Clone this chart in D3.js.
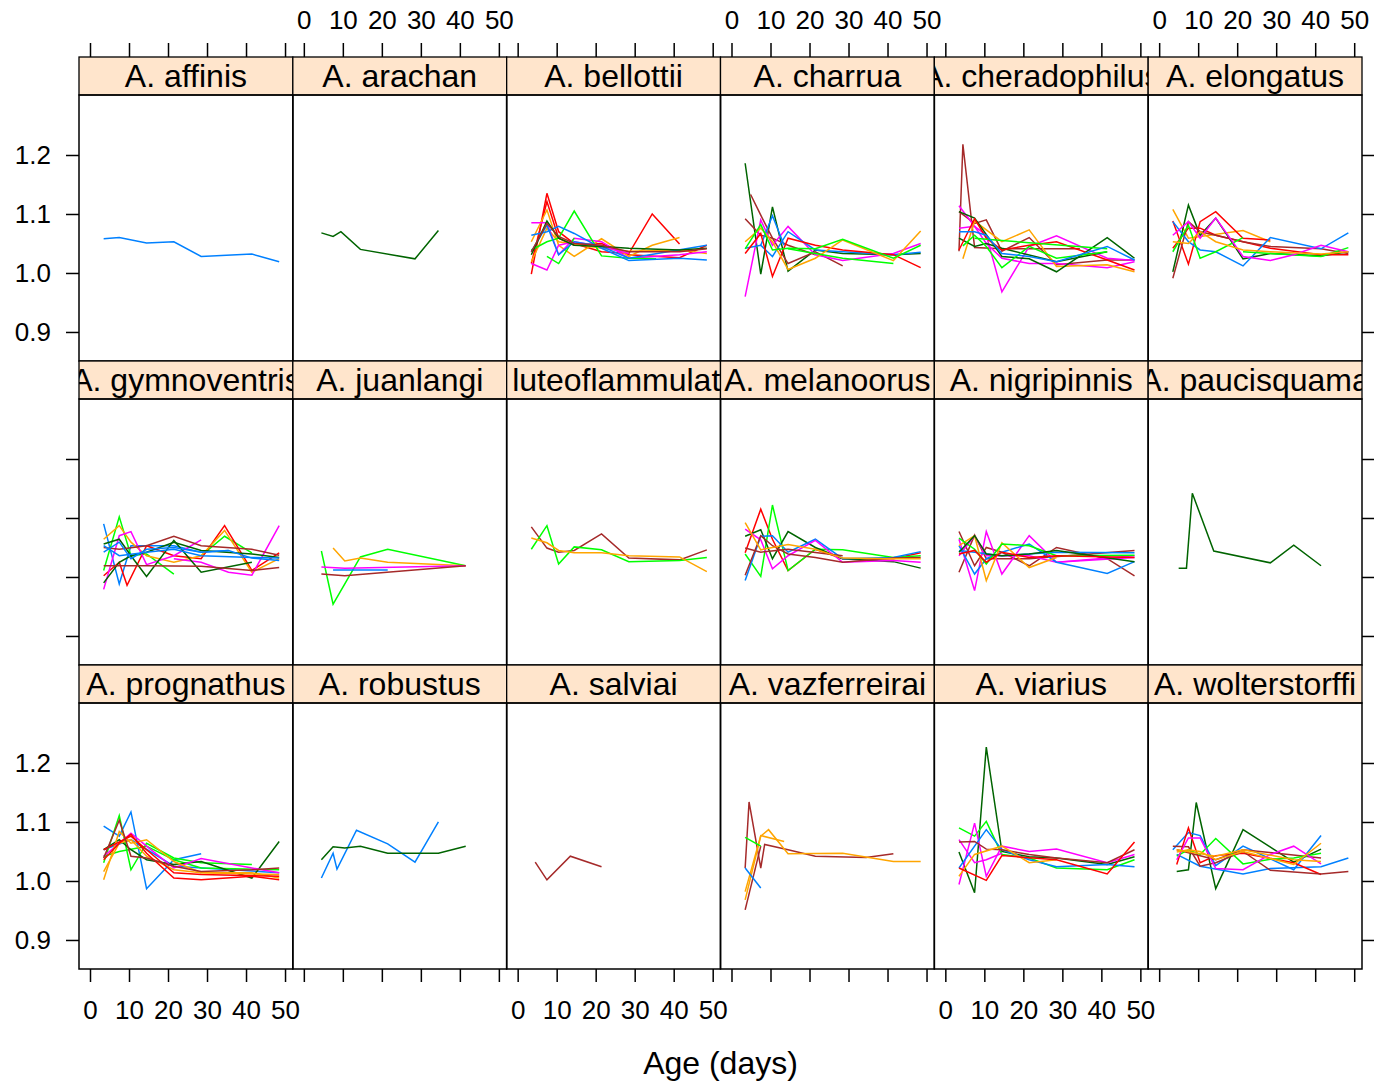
<!DOCTYPE html>
<html>
<head>
<meta charset="utf-8">
<script src="https://cdn.jsdelivr.net/npm/d3@7/dist/d3.min.js"></script>
<style>
body { margin: 0; background: #fff; }
text { font-family: "Liberation Sans", Arial, sans-serif; }
</style>
</head>
<body>
<div id="graph"></div>
<script>
// lattice default superpose colours
const palette = { B: "#0080ff", M: "#ff00ff", D: "#006400", R: "#ff0000", O: "#ffa500", G: "#00ff00", N: "#a52a2a" };

const species = ["A. affinis", "A. arachan", "A. bellottii", "A. charrua", "A. cheradophilus", "A. elongatus",
  "A. gymnoventris", "A. juanlangi", "A. luteoflammulatus", "A. melanoorus", "A. nigripinnis", "A. paucisquama",
  "A. prognathus", "A. robustus", "A. salviai", "A. vazferreirai", "A. viarius", "A. wolterstorffi"];

const xTicks = [0, 10, 20, 30, 40, 50];
const yTicks = [0.9, 1.0, 1.1, 1.2];

// each line: [colour key, [[age, value], ...]]
const affinis = [
  ["B", [[3.5,1.058],[7.5,1.060],[14.5,1.051],[21.5,1.053],[28.5,1.028],[41.5,1.032],[48.5,1.019]]]
];
const arachan = [
  ["D", [[4.5,1.068],[7.5,1.062],[9.5,1.070],[14.5,1.040],[28.5,1.024],[34.5,1.072]]]
];
const bellottii = [
  ["R", [[3.5,0.998],[7.5,1.135],[10.5,1.070],[14.5,1.050],[21.5,1.036],[28.5,1.033],[34.5,1.100],[41.5,1.049]]],
  ["R", [[3.5,1.016],[7.5,1.121],[10.5,1.059],[14.5,1.047],[21.5,1.050],[28.5,1.031],[41.5,1.026],[48.5,1.047]]],
  ["O", [[3.5,1.053],[7.5,1.107],[10.5,1.047],[14.5,1.028],[21.5,1.058],[28.5,1.028],[34.5,1.047],[41.5,1.060]]],
  ["O", [[3.5,1.019],[7.5,1.076],[10.5,1.053],[21.5,1.042],[28.5,1.037],[41.5,1.039],[48.5,1.033]]],
  ["M", [[3.5,1.085],[7.5,1.085],[10.5,1.031],[14.5,1.059],[21.5,1.053],[28.5,1.025],[41.5,1.031],[48.5,1.036]]],
  ["M", [[3.5,1.016],[7.5,1.005],[10.5,1.047],[14.5,1.053],[21.5,1.045],[28.5,1.033]]],
  ["G", [[3.5,1.039],[7.5,1.053],[10.5,1.059],[14.5,1.105],[21.5,1.029],[28.5,1.025],[35.5,1.024]]],
  ["G", [[7.5,1.028],[10.5,1.016],[14.5,1.059]]],
  ["B", [[3.5,1.064],[7.5,1.070],[10.5,1.079],[14.5,1.067],[21.5,1.042],[28.5,1.021],[41.5,1.025],[48.5,1.022]]],
  ["B", [[3.5,1.036],[7.5,1.081],[10.5,1.031],[14.5,1.053],[21.5,1.045],[28.5,1.025],[48.5,1.047]]],
  ["D", [[3.5,1.031],[7.5,1.088],[10.5,1.059],[14.5,1.047],[21.5,1.045],[28.5,1.042],[41.5,1.039],[48.5,1.042]]],
  ["N", [[3.5,1.036],[7.5,1.084],[10.5,1.062],[14.5,1.050],[21.5,1.047],[28.5,1.036],[41.5,1.036],[48.5,1.041]]]
];
const charrua = [
  ["D", [[3.5,1.186],[7.5,0.998],[10.5,1.112],[14.5,1.003],[21.5,1.039],[28.5,1.033],[41.5,1.031],[48.5,1.033]]],
  ["N", [[4.9,1.133],[7.5,1.098],[10.5,1.059],[14.5,1.016],[21.5,1.036],[28.5,1.012]]],
  ["N", [[3.5,1.092],[7.5,1.064],[10.5,1.059],[14.5,1.047],[21.5,1.031]]],
  ["M", [[3.5,0.960],[7.5,1.090],[10.5,1.047],[14.5,1.079],[21.5,1.031],[28.5,1.021],[41.5,1.033],[48.5,1.050]]],
  ["B", [[3.5,1.042],[7.5,1.047],[10.5,1.028],[14.5,1.070],[21.5,1.039],[28.5,1.036],[41.5,1.031],[48.5,1.035]]],
  ["B", [[7.5,1.047],[10.5,1.097],[13.5,1.047]]],
  ["R", [[3.5,1.033],[7.5,1.067],[10.5,0.994],[14.5,1.059],[21.5,1.047],[28.5,1.039],[41.5,1.031],[48.5,1.009]]],
  ["O", [[3.5,1.053],[7.5,1.076],[10.5,1.053],[14.5,1.006],[21.5,1.025],[28.5,1.056],[41.5,1.021],[48.5,1.071]]],
  ["G", [[3.5,1.041],[7.5,1.082],[10.5,1.039],[14.5,1.042],[21.5,1.041],[28.5,1.057],[41.5,1.025],[48.5,1.047]]],
  ["G", [[14.5,1.041],[28.5,1.025],[41.5,1.016]]]
];
const cheradophilus = [
  ["N", [[3.5,1.037],[4.5,1.218],[7.5,1.043],[14.5,1.041],[21.5,1.041],[28.5,1.041],[34.5,1.041]]],
  ["N", [[3.5,1.104],[7.5,1.084],[10.5,1.090],[14.5,1.037],[21.5,1.060],[28.5,1.014],[41.5,1.022],[48.5,1.022]]],
  ["M", [[3.5,1.114],[7.5,1.079],[10.5,1.064],[14.5,0.968],[21.5,1.045],[28.5,1.063],[41.5,1.025],[48.5,1.021]]],
  ["M", [[3.5,1.076],[7.5,1.079],[10.5,1.050],[14.5,1.025],[21.5,1.016],[28.5,1.016],[41.5,1.009],[48.5,1.019]]],
  ["O", [[4.5,1.024],[7.5,1.088],[14.5,1.053],[21.5,1.073],[28.5,1.011],[41.5,1.014],[48.5,1.002]]],
  ["D", [[3.5,1.104],[7.5,1.093],[14.5,1.028],[21.5,1.024],[28.5,1.002],[41.5,1.060],[48.5,1.025]]],
  ["D", [[3.5,1.059],[7.5,1.045],[10.5,1.050],[14.5,1.042],[28.5,1.019],[41.5,1.036]]],
  ["R", [[3.5,1.039],[7.5,1.092],[10.5,1.059],[14.5,1.039],[21.5,1.047],[28.5,1.053],[41.5,1.022],[48.5,1.005]]],
  ["G", [[4.5,1.046],[7.5,1.064],[10.5,1.045],[14.5,1.009],[21.5,1.045],[28.5,1.025],[41.5,1.036]]],
  ["G", [[7.5,1.059],[14.5,1.055],[41.5,1.041]]],
  ["B", [[3.5,1.070],[7.5,1.070],[10.5,1.064],[14.5,1.033],[21.5,1.028],[28.5,1.019],[41.5,1.045],[48.5,1.022]]]
];
const elongatus = [
  ["O", [[3.5,1.108],[7.5,1.059],[21.5,1.072],[28.5,1.053]]],
  ["D", [[3.5,1.002],[7.5,1.115],[10.5,1.064],[14.5,1.093],[21.5,1.024],[28.5,1.033],[41.5,1.029],[48.5,1.036]]],
  ["R", [[3.5,1.088],[7.5,1.015],[10.5,1.087],[14.5,1.104],[21.5,1.059],[28.5,1.056]]],
  ["R", [[3.5,1.042],[7.5,1.076],[10.5,1.076],[14.5,1.064],[21.5,1.053],[28.5,1.042],[41.5,1.031],[48.5,1.031]]],
  ["N", [[3.5,0.991],[7.5,1.087],[10.5,1.070],[14.5,1.064],[21.5,1.053],[28.5,1.045],[41.5,1.041],[48.5,1.033]]],
  ["B", [[3.5,1.087],[7.5,1.053],[10.5,1.039],[14.5,1.036],[21.5,1.012],[28.5,1.060],[41.5,1.041],[48.5,1.068]]],
  ["G", [[3.5,1.036],[7.5,1.081],[10.5,1.025],[14.5,1.036],[21.5,1.060]]],
  ["G", [[21.5,1.036],[28.5,1.033],[41.5,1.028],[48.5,1.043]]],
  ["M", [[3.5,1.064],[7.5,1.087],[10.5,1.059],[14.5,1.093],[21.5,1.028],[28.5,1.021],[34.5,1.031],[41.5,1.047],[48.5,1.036]]],
  ["O", [[3.5,1.053],[7.5,1.050],[10.5,1.070],[14.5,1.053],[21.5,1.039],[28.5,1.036],[41.5,1.032],[48.5,1.036]]]
];
const gymnoventris = [
  ["B", [[3.5,1.090],[7.5,0.988],[10.5,1.053],[14.5,1.053],[21.5,1.053],[28.5,1.042],[35.5,1.045]]],
  ["G", [[3.5,1.011],[7.5,1.102],[10.5,1.036],[14.5,1.039],[21.5,1.005]]],
  ["G", [[28.5,1.036],[34.5,1.069],[41.5,1.041]]],
  ["R", [[3.5,1.002],[7.5,1.025],[9.5,0.986],[14.5,1.053],[21.5,1.036],[28.5,1.031],[34.5,1.087],[41.5,1.011],[48.5,1.041]]],
  ["O", [[3.5,1.064],[7.5,1.087],[10.5,1.059],[14.5,1.036],[21.5,1.025],[28.5,1.036],[34.5,1.079],[41.5,1.008],[48.5,1.031]]],
  ["M", [[3.5,0.979],[7.5,1.070],[10.5,1.077],[14.5,1.021],[21.5,1.036],[28.5,1.063]]],
  ["M", [[21.5,1.031],[28.5,1.025],[35.5,1.008],[41.5,1.003],[48.5,1.087]]],
  ["D", [[3.5,0.990],[7.5,1.025],[10.5,1.036],[14.5,1.001],[21.5,1.062],[28.5,1.008],[41.5,1.025]]],
  ["D", [[3.5,1.056],[7.5,1.064],[10.5,1.036],[14.5,1.042],[21.5,1.059],[28.5,1.045],[41.5,1.039],[48.5,1.033]]],
  ["N", [[3.5,1.050],[7.5,1.047],[14.5,1.053],[21.5,1.069],[28.5,1.053],[41.5,1.047],[48.5,1.037]]],
  ["N", [[3.5,1.019],[14.5,1.019],[28.5,1.018],[41.5,1.011],[48.5,1.016]]],
  ["B", [[3.5,1.042],[7.5,1.059],[10.5,1.031],[14.5,1.047],[21.5,1.050],[28.5,1.042],[35.5,1.045],[41.5,1.032],[48.5,1.028]]],
  ["B", [[3.5,1.053],[7.5,1.036],[14.5,1.042],[21.5,1.047],[28.5,1.036],[41.5,1.033],[48.5,1.032]]]
];
const juanlangi = [
  ["G", [[4.5,1.044],[7.5,0.954],[14.5,1.034],[21.5,1.047],[41.5,1.019]]],
  ["O", [[7.5,1.049],[10.5,1.027],[14.5,1.032],[21.5,1.025],[41.5,1.019]]],
  ["M", [[4.5,1.017],[10.5,1.015],[41.5,1.019]]],
  ["N", [[4.5,1.005],[10.5,1.002],[41.5,1.019]]],
  ["B", [[7.5,1.012],[21.5,1.012]]]
];
const luteoflammulatus = [
  ["N", [[3.5,1.085],[7.5,1.049],[10.5,1.042],[14.5,1.045],[21.5,1.073],[28.5,1.032],[41.5,1.029],[48.5,1.046]]],
  ["G", [[3.5,1.047],[7.5,1.087],[10.5,1.022],[14.5,1.051],[21.5,1.046],[28.5,1.026],[41.5,1.028],[48.5,1.033]]],
  ["O", [[3.5,1.066],[7.5,1.058],[10.5,1.045],[14.5,1.041],[21.5,1.041],[28.5,1.036],[41.5,1.034],[48.5,1.009]]]
];
const melanoorus = [
  ["R", [[3.5,1.041],[7.5,1.115],[10.5,1.064],[14.5,1.011],[21.5,1.047],[28.5,1.031],[41.5,1.031],[48.5,1.041]]],
  ["G", [[3.5,1.039],[7.5,1.001],[10.5,1.122],[14.5,1.011],[21.5,1.047],[28.5,1.046],[41.5,1.033],[48.5,1.036]]],
  ["D", [[3.5,1.069],[7.5,1.080],[10.5,1.031],[14.5,1.077],[21.5,1.050],[28.5,1.031],[41.5,1.026],[48.5,1.015]]],
  ["B", [[3.5,0.994],[7.5,1.069],[10.5,1.070],[14.5,1.042],[21.5,1.064],[28.5,1.031],[41.5,1.033],[48.5,1.043]]],
  ["M", [[3.5,1.081],[7.5,1.063],[10.5,1.014],[14.5,1.036],[21.5,1.062],[28.5,1.025],[41.5,1.028],[48.5,1.025]]],
  ["N", [[3.5,1.003],[7.5,1.070],[10.5,1.053],[14.5,1.039],[21.5,1.033],[28.5,1.025],[41.5,1.032],[48.5,1.033]]],
  ["N", [[3.5,1.049],[7.5,1.042],[14.5,1.047],[28.5,1.036]]],
  ["O", [[3.5,1.092],[7.5,1.046],[14.5,1.055],[21.5,1.047],[28.5,1.032],[41.5,1.031],[48.5,1.031]]]
];
const nigripinnis = [
  ["N", [[3.5,1.077],[7.5,1.019],[10.5,1.050],[14.5,1.042],[21.5,1.019],[28.5,1.050],[41.5,1.031],[48.5,1.002]]],
  ["N", [[3.5,1.008],[7.5,1.071],[10.5,1.031],[21.5,1.031],[48.5,1.045]]],
  ["M", [[3.5,1.064],[7.5,0.977],[10.5,1.077],[14.5,1.005],[21.5,1.070],[28.5,1.025],[48.5,1.033]]],
  ["M", [[3.5,1.036],[7.5,1.070],[10.5,1.036],[21.5,1.036],[28.5,1.025],[48.5,1.036]]],
  ["B", [[3.5,1.053],[7.5,1.005],[10.5,1.031],[14.5,1.042],[21.5,1.056],[28.5,1.025],[41.5,1.006],[48.5,1.026]]],
  ["B", [[3.5,1.045],[7.5,1.042],[14.5,1.036],[28.5,1.042],[48.5,1.041]]],
  ["O", [[3.5,1.053],[7.5,1.070],[10.5,0.994],[14.5,1.058],[21.5,1.016],[28.5,1.033]]],
  ["G", [[3.5,1.066],[7.5,1.047],[10.5,1.022],[14.5,1.056],[21.5,1.053],[28.5,1.036],[48.5,1.037]]],
  ["D", [[3.5,1.042],[7.5,1.070],[10.5,1.039],[14.5,1.036],[21.5,1.039],[28.5,1.045],[48.5,1.026]]],
  ["R", [[3.5,1.039],[7.5,1.045],[10.5,1.025],[14.5,1.042],[21.5,1.033],[28.5,1.036],[48.5,1.033]]]
];
const paucisquama = [
  ["D", [[5,1.015],[7,1.015],[8.5,1.142],[14,1.044],[28.5,1.024],[34.5,1.054],[41.5,1.019]]]
];
const prognathus = [
  ["B", [[3.5,1.093],[7.5,1.076],[10.5,1.117],[14.5,0.987],[21.5,1.036],[28.5,1.046]]],
  ["B", [[3.5,1.053],[10.5,1.070],[21.5,1.025],[48.5,1.014]]],
  ["G", [[3.5,1.031],[7.5,1.111],[10.5,1.019],[14.5,1.064],[21.5,1.039],[28.5,1.031],[41.5,1.028]]],
  ["G", [[3.5,1.042],[7.5,1.050],[14.5,1.059],[21.5,1.036],[28.5,1.022],[48.5,1.019]]],
  ["D", [[3.5,1.053],[7.5,1.070],[10.5,1.053],[14.5,1.036],[21.5,1.028],[28.5,1.033],[41.5,1.005],[48.5,1.067]]],
  ["M", [[3.5,1.042],[7.5,1.064],[10.5,1.081],[14.5,1.059],[21.5,1.022],[28.5,1.038],[41.5,1.022],[48.5,1.014]]],
  ["O", [[3.5,1.002],[7.5,1.084],[10.5,1.064],[14.5,1.070],[21.5,1.033],[28.5,1.014],[41.5,1.014],[48.5,1.005]]],
  ["O", [[3.5,1.016],[7.5,1.064],[10.5,1.070],[14.5,1.042],[21.5,1.019],[28.5,1.014],[48.5,1.011]]],
  ["R", [[3.5,1.036],[7.5,1.064],[10.5,1.079],[14.5,1.047],[21.5,1.005],[28.5,1.002],[41.5,1.008],[48.5,1.002]]],
  ["R", [[3.5,1.053],[10.5,1.076],[14.5,1.053],[21.5,1.014],[28.5,1.011],[48.5,1.008]]],
  ["N", [[3.5,1.039],[7.5,1.103],[10.5,1.042],[14.5,1.039],[21.5,1.025],[28.5,1.016],[41.5,1.019],[48.5,1.022]]]
];
const robustus = [
  ["B", [[4.5,1.005],[7.5,1.047],[8.5,1.020],[13.5,1.086],[21.5,1.063],[28.5,1.032],[34.5,1.100]]],
  ["D", [[4.5,1.036],[7.5,1.058],[10.5,1.056],[14.5,1.059],[21.5,1.047],[34.5,1.047],[41.5,1.059]]]
];
const salviai = [
  ["N", [[4.5,1.032],[7.5,1.002],[13.5,1.042],[21.5,1.024]]]
];
const vazferreirai = [
  ["N", [[3.5,1.022],[4.5,1.134],[7.5,1.022],[8.5,1.062],[14.5,1.053],[21.5,1.042],[34.5,1.040],[41.5,1.046]]],
  ["N", [[3.5,0.951],[7.5,1.059]]],
  ["O", [[3.5,0.968],[7.5,1.076],[9.5,1.087],[14.5,1.046],[28.5,1.047],[41.5,1.033],[48.5,1.033]]],
  ["O", [[3.5,0.982],[7.5,1.077],[13.5,1.067]]],
  ["G", [[3.5,1.074],[7.5,1.059]]],
  ["B", [[3.5,1.022],[7.5,0.988]]]
];
const viarius = [
  ["D", [[3.5,1.049],[7.5,0.980],[10.5,1.227],[14.5,1.050],[21.5,1.041],[28.5,1.039],[41.5,1.028],[48.5,1.041]]],
  ["G", [[3.5,1.090],[7.5,1.076],[10.5,1.101],[14.5,1.045],[21.5,1.039],[28.5,1.022],[41.5,1.019],[48.5,1.036]]],
  ["M", [[3.5,0.994],[7.5,1.098],[10.5,1.008],[14.5,1.059],[21.5,1.050],[28.5,1.054],[41.5,1.031],[48.5,1.045]]],
  ["M", [[3.5,1.070],[7.5,1.031],[10.5,1.036],[14.5,1.047]]],
  ["B", [[3.5,1.022],[10.5,1.087],[14.5,1.053],[21.5,1.036],[28.5,1.024],[41.5,1.028],[48.5,1.024]]],
  ["N", [[3.5,1.066],[7.5,1.067],[10.5,1.054],[14.5,1.053],[21.5,1.045],[28.5,1.039],[41.5,1.031],[48.5,1.053]]],
  ["O", [[3.5,1.008],[7.5,1.045],[14.5,1.059],[21.5,1.031],[28.5,1.036]]],
  ["R", [[3.5,1.022],[10.5,1.001],[14.5,1.043],[28.5,1.036],[41.5,1.012],[48.5,1.066]]]
];
const wolterstorffi = [
  ["D", [[4.5,1.016],[7.5,1.019],[9.5,1.133],[14.5,0.987],[21.5,1.087],[34.5,1.032],[41.5,1.054]]],
  ["B", [[3.5,1.053],[7.5,1.082],[10.5,1.077],[14.5,1.026],[21.5,1.059],[34.5,1.019],[41.5,1.077]]],
  ["B", [[4.5,1.045],[10.5,1.025],[21.5,1.012],[28.5,1.021],[41.5,1.024],[48.5,1.039]]],
  ["R", [[4.5,1.028],[7.5,1.090],[10.5,1.031],[14.5,1.043],[21.5,1.047],[34.5,1.031],[41.5,1.011]]],
  ["N", [[3.5,1.059],[7.5,1.058],[10.5,1.025],[14.5,1.031],[21.5,1.050],[28.5,1.018],[41.5,1.012],[48.5,1.016]]],
  ["N", [[4.5,1.053],[14.5,1.036],[21.5,1.053],[41.5,1.039]]],
  ["G", [[4.5,1.042],[7.5,1.053],[10.5,1.045],[14.5,1.072],[21.5,1.029],[28.5,1.037],[34.5,1.039],[41.5,1.047]]],
  ["M", [[4.5,1.036],[7.5,1.073],[10.5,1.073],[14.5,1.021],[21.5,1.019],[28.5,1.045],[34.5,1.059],[41.5,1.029]]],
  ["O", [[4.5,1.049],[7.5,1.053],[10.5,1.050],[14.5,1.036],[21.5,1.050],[34.5,1.028],[41.5,1.064]]],
  ["O", [[4.5,1.053],[14.5,1.042],[21.5,1.053],[34.5,1.036],[41.5,1.033]]]
];

const panelData = [affinis, arachan, bellottii, charrua, cheradophilus, elongatus,
  gymnoventris, juanlangi, luteoflammulatus, melanoorus, nigripinnis, paucisquama,
  prognathus, robustus, salviai, vazferreirai, viarius, wolterstorffi];

// layout
const fullWidth = 1374, fullHeight = 1081;
const plotLeft = 79, plotRight = 1362, plotTop = 57;
const nCol = 6, nRow = 3;
const pw = (plotRight - plotLeft) / nCol;
const stripH = 38, panelH = 266, rowH = stripH + panelH;
const plotBottom = plotTop + nRow * rowH;

const x = d3.scaleLinear().domain([-2.82, 52.0]).range([0, pw]);
const y = d3.scaleLinear().domain([0.8508, 1.3017]).range([panelH, 0]);
const fmtY = d3.format(".1f");

var svg = d3.select("#graph")
  .append("svg")
  .attr("width", fullWidth)
  .attr("height", fullHeight);

var defs = svg.append("defs");
defs.append("clipPath").attr("id", "stripClip")
  .append("rect").attr("width", pw).attr("height", stripH);
defs.append("clipPath").attr("id", "panelClip")
  .append("rect").attr("width", pw).attr("height", panelH);

const line = d3.line().x(d => x(d[0])).y(d => y(d[1]));

species.forEach((name, i) => {
  const col = i % nCol, row = Math.floor(i / nCol);
  const g = svg.append("g")
    .attr("transform", `translate(${plotLeft + col * pw},${plotTop + row * rowH})`);

  // strip
  const s = g.append("g");
  s.append("rect")
    .attr("width", pw).attr("height", stripH)
    .attr("fill", "#ffe5cc");
  s.append("g").attr("clip-path", "url(#stripClip)")
    .append("text")
    .attr("x", pw / 2).attr("y", stripH / 2 + 11)
    .attr("text-anchor", "middle")
    .attr("font-size", 32)
    .text(name);
  s.append("rect")
    .attr("width", pw).attr("height", stripH)
    .attr("fill", "none").attr("stroke", "#000").attr("stroke-width", 1.3);

  // panel
  const p = g.append("g").attr("transform", `translate(0,${stripH})`);
  p.append("g").attr("clip-path", "url(#panelClip)")
    .selectAll("path")
    .data(panelData[i])
    .enter().append("path")
    .attr("d", d => line(d[1]))
    .attr("fill", "none")
    .attr("stroke", d => palette[d[0]])
    .attr("stroke-width", 1.5);
  p.append("rect")
    .attr("width", pw).attr("height", panelH)
    .attr("fill", "none").attr("stroke", "#000").attr("stroke-width", 1.5);
});

function styleAxis(sel) {
  sel.select(".domain").remove();
  sel.selectAll(".tick line").attr("stroke", "#000").attr("stroke-width", 1.5);
  sel.selectAll(".tick text").attr("fill", "#000").attr("font-size", 26)
    .attr("font-family", '"Liberation Sans", Arial, sans-serif');
}

// x axes: ticks on all columns, labels alternate top / bottom
for (let c = 0; c < nCol; c++) {
  const ox = plotLeft + c * pw;
  svg.append("g")
    .attr("transform", `translate(${ox},${plotTop})`)
    .call(d3.axisTop(x).tickValues(xTicks).tickSize(14).tickPadding(14)
      .tickFormat(c % 2 === 1 ? d3.format("d") : ""))
    .call(styleAxis);
  svg.append("g")
    .attr("transform", `translate(${ox},${plotBottom})`)
    .call(d3.axisBottom(x).tickValues(xTicks).tickSize(13).tickPadding(19)
      .tickFormat(c % 2 === 0 ? d3.format("d") : ""))
    .call(styleAxis);
}

// y axes: labels on the left for top and bottom rows, ticks only on the right
for (let r = 0; r < nRow; r++) {
  const oy = plotTop + r * rowH + stripH;
  svg.append("g")
    .attr("transform", `translate(${plotLeft},${oy})`)
    .call(d3.axisLeft(y).tickValues(yTicks).tickSize(13).tickPadding(15)
      .tickFormat(r % 2 === 0 ? fmtY : ""))
    .call(styleAxis);
  svg.append("g")
    .attr("transform", `translate(${plotRight},${oy})`)
    .call(d3.axisRight(y).tickValues(yTicks).tickSize(13).tickFormat(""))
    .call(styleAxis);
}

// x label
svg.append("text")
  .attr("x", (plotLeft + plotRight) / 2)
  .attr("y", 1074)
  .attr("text-anchor", "middle")
  .attr("font-size", 32)
  .text("Age (days)");
</script>
</body>
</html>
